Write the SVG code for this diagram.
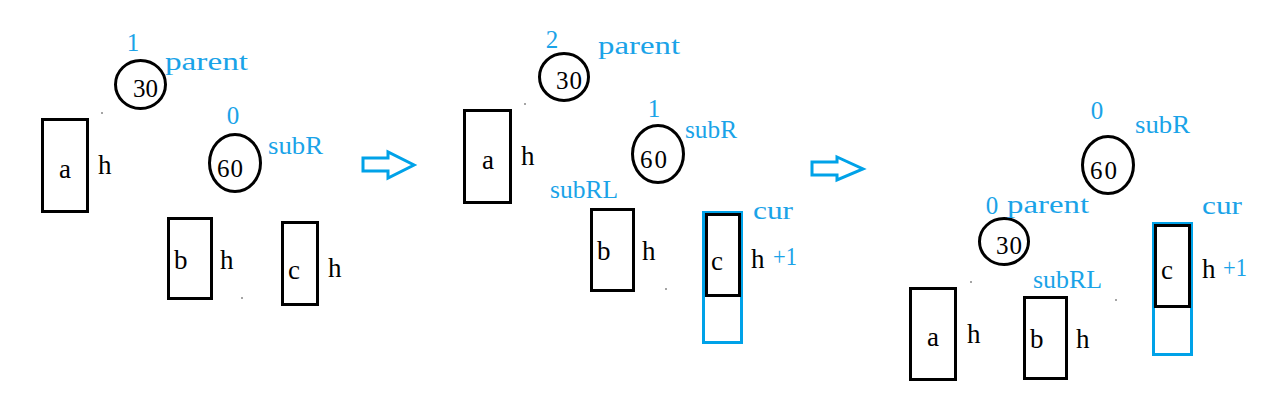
<svg xmlns="http://www.w3.org/2000/svg" width="1287" height="406" viewBox="0 0 1287 406">
<style>
.bg{fill:#fff}
.n{fill:none;stroke:#000;stroke-width:3}
.bl{fill:none;stroke:#00A2E8;stroke-width:3}
.t{font-family:"Liberation Serif",serif;font-size:27px;fill:#000}
.d{font-family:"Liberation Serif",serif;font-size:25px;fill:#000}
.l{font-family:"Liberation Serif",serif;font-size:25px;fill:#1AA3E8}
.ld{font-family:"Liberation Serif",serif;font-size:25px;fill:#1AA3E8;text-anchor:middle}
.dot{fill:#333}
.arr{fill:#fff;stroke:#00A2E8;stroke-width:3}
</style>
<rect class="bg" width="1287" height="406"/>
<!-- Panel 1 -->
<g id="p1-n30">
<ellipse class="n" cx="140.5" cy="84.5" rx="25" ry="24"/>
<text class="d" x="133" y="97" textLength="25">30</text>
<text class="ld" x="133" y="51">1</text>
<text class="l" x="165" y="70" textLength="83" lengthAdjust="spacingAndGlyphs">parent</text>
</g>
<g id="p1-a">
<rect class="n" x="42.5" y="119.5" width="45" height="92"/>
<text class="t" x="59" y="178">a</text>
<text class="t" x="98" y="174">h</text>
</g>
<g id="p1-n60">
<ellipse class="n" cx="235" cy="163" rx="25.5" ry="28.5"/>
<text class="d" x="217" y="177" textLength="26">60</text>
<text class="ld" x="233" y="124">0</text>
<text class="l" x="268" y="154" textLength="55" lengthAdjust="spacingAndGlyphs">subR</text>
</g>
<g id="p1-b">
<rect class="n" x="168.5" y="218.5" width="43" height="80"/>
<text class="t" x="174" y="269">b</text>
<text class="t" x="220" y="269">h</text>
</g>
<g id="p1-c">
<rect class="n" x="282.5" y="222.5" width="35" height="82"/>
<text class="t" x="288" y="279">c</text>
<text class="t" x="328" y="277">h</text>
</g>
<!-- Panel 2 -->
<g id="p2-n30">
<ellipse class="n" cx="564" cy="77" rx="24.5" ry="23.5"/>
<text class="d" x="556" y="89" textLength="26">30</text>
<text class="ld" x="552" y="48">2</text>
<text class="l" x="598" y="54" textLength="82" lengthAdjust="spacingAndGlyphs">parent</text>
</g>
<g id="p2-a">
<rect class="n" x="464.5" y="110.5" width="46" height="92"/>
<text class="t" x="482" y="169">a</text>
<text class="t" x="521" y="165">h</text>
</g>
<g id="p2-n60">
<ellipse class="n" cx="658" cy="154" rx="25.5" ry="28.5"/>
<text class="d" x="640" y="168" textLength="27">60</text>
<text class="ld" x="654" y="117">1</text>
<text class="l" x="685" y="138" textLength="52" lengthAdjust="spacingAndGlyphs">subR</text>
</g>
<g id="p2-b">
<rect class="n" x="591.5" y="209.5" width="42" height="81"/>
<text class="l" x="550" y="198" textLength="68" lengthAdjust="spacingAndGlyphs">subRL</text>
<text class="t" x="597" y="260">b</text>
<text class="t" x="642" y="260">h</text>
</g>
<g id="p2-c">
<rect class="bl" x="703.5" y="212.5" width="38" height="130"/>
<rect class="n" x="706.5" y="214.5" width="33" height="81"/>
<text class="t" x="711" y="270">c</text>
<text class="t" x="751" y="268">h</text>
<text class="l" x="773" y="265" textLength="24" lengthAdjust="spacingAndGlyphs">+1</text>
<text class="l" x="753" y="219" textLength="40" lengthAdjust="spacingAndGlyphs">cur</text>
</g>
<!-- Panel 3 -->
<g id="p3-n60">
<ellipse class="n" cx="1108" cy="165" rx="25.5" ry="28.5"/>
<text class="d" x="1090" y="179" textLength="27">60</text>
<text class="ld" x="1097" y="119">0</text>
<text class="l" x="1135" y="133" textLength="55" lengthAdjust="spacingAndGlyphs">subR</text>
</g>
<g id="p3-n30">
<ellipse class="n" cx="1004" cy="241.5" rx="24.5" ry="23"/>
<text class="d" x="996" y="254" textLength="26">30</text>
<text class="ld" x="992" y="214">0</text>
<text class="l" x="1007" y="213" textLength="82" lengthAdjust="spacingAndGlyphs">parent</text>
</g>
<g id="p3-a">
<rect class="n" x="910.5" y="288.5" width="45" height="91"/>
<text class="t" x="927" y="346">a</text>
<text class="t" x="967" y="343">h</text>
</g>
<g id="p3-b">
<rect class="n" x="1024.5" y="297.5" width="42" height="81"/>
<text class="l" x="1033" y="288" textLength="69" lengthAdjust="spacingAndGlyphs">subRL</text>
<text class="t" x="1030" y="348">b</text>
<text class="t" x="1076" y="348">h</text>
</g>
<g id="p3-c">
<rect class="bl" x="1153.5" y="223.5" width="38" height="131"/>
<rect class="n" x="1155.5" y="225.5" width="34" height="81"/>
<text class="t" x="1161" y="279">c</text>
<text class="t" x="1202" y="278">h</text>
<text class="l" x="1223" y="276" textLength="24" lengthAdjust="spacingAndGlyphs">+1</text>
<text class="l" x="1202" y="214" textLength="40" lengthAdjust="spacingAndGlyphs">cur</text>
</g>
<!-- transitions -->
<g id="connectors">
<polygon class="arr" points="363,158 388,158 388,152 414,165 388,178 388,171 363,171"/>
<polygon class="arr" points="812,162 837,162 837,157 863,169 837,180 837,175 812,175"/>
<circle class="dot" cx="102" cy="113" r="0.8"/>
<circle class="dot" cx="242" cy="298" r="0.8"/>
<circle class="dot" cx="525" cy="104" r="0.8"/>
<circle class="dot" cx="666" cy="289" r="0.8"/>
<circle class="dot" cx="971" cy="282" r="0.8"/>
<circle class="dot" cx="1116" cy="300" r="0.8"/>
</g>
</svg>
